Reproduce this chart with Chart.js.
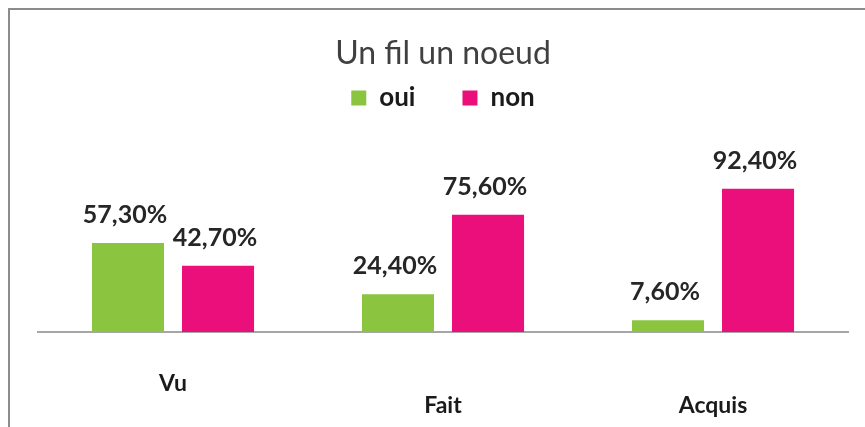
<!DOCTYPE html>
<html>
<head>
<meta charset="utf-8">
<script src="https://cdn.jsdelivr.net/npm/chart.js@4/dist/chart.umd.min.js"></script>
<style>
    html, body { margin: 0; padding: 0; background: #fff; overflow: hidden; }
    #wrap { position: relative; width: 865px; height: 427px; }
    /* cadre gris (coin haut-gauche seulement, le reste est coupé) */
    #frame { position: absolute; left: 8px; top: 8px; right: -10px; bottom: -10px;
             border-left: 2px solid #8c8c8c; border-top: 2px solid #8c8c8c; }
    canvas { position: absolute; left: 0; top: 0; }
</style>
</head>
<body>
<div id="wrap">
    <div id="frame"></div>
    <canvas id="chart-noeud" width="865" height="427"></canvas>
</div>
<script>
// Données du graphique
const categories = ['Vu', 'Fait', 'Acquis'];
const ouiValues = [57.3, 24.4, 7.6];
const nonValues = [42.7, 75.6, 92.4];
const seriesNames = ['oui', 'non'];

const FONT = 'Lato';

// Étiquettes de valeurs au-dessus des barres (format français 57,30%)
const valueLabels = {
    id: 'valueLabels',
    afterDatasetsDraw(chart) {
        const ctx = chart.ctx;
        ctx.save();
        ctx.font = `bold 25px ${FONT}`;
        ctx.fillStyle = '#262626';
        ctx.textAlign = 'center';
        ctx.textBaseline = 'alphabetic';
        chart.data.datasets.forEach((ds, i) => {
            const meta = chart.getDatasetMeta(i);
            meta.data.forEach((bar, j) => {
                const txt = ds.data[j].toFixed(2).replace('.', ',') + '%';
                ctx.fillText(txt, bar.x - 3, bar.y - 20);
            });
        });
        ctx.restore();
    }
};

new Chart(document.getElementById('chart-noeud'), {
    type: 'bar',
    data: {
        labels: categories,
        datasets: [
            {
                label: seriesNames[0],
                data: ouiValues,
                backgroundColor: '#8BC43F',
                categoryPercentage: 0.667,
                barPercentage: 0.8
            },
            {
                label: seriesNames[1],
                data: nonValues,
                backgroundColor: '#EA0F7B',
                categoryPercentage: 0.667,
                barPercentage: 0.8
            }
        ]
    },
    options: {
        responsive: false,
        animation: false,
        events: [],
        layout: { padding: { left: 38, right: 17, top: 38, bottom: -31 } },
        plugins: {
            title: {
                display: true,
                text: 'Un fil un noeud',
                color: '#404040',
                font: { family: FONT, size: 32, weight: 'normal', lineHeight: 1 },
                padding: { top: 0, bottom: -32 }
            },
            legend: {
                position: 'top',
                labels: {
                    boxWidth: 15,
                    boxHeight: 15,
                    padding: 47,
                    color: '#1a1a1a',
                    font: { family: FONT, size: 26, weight: 'bold' }
                }
            },
            tooltip: { enabled: false }
        },
        scales: {
            y: {
                display: false,
                beginAtZero: true,
                max: 136
            },
            x: {
                grid: { display: false, drawTicks: false },
                border: { display: true, color: '#a6a6a6', width: 2 },
                ticks: {
                    padding: 41,
                    color: '#1a1a1a',
                    font: { family: FONT, size: 23, weight: 'bold', lineHeight: '22px' },
                    // "Vu" plus haut, "Fait" et "Acquis" décalés d'une ligne
                    callback: (value, index) => index === 0 ? categories[index] : ['', categories[index]]
                }
            }
        }
    },
    plugins: [valueLabels]
});
</script>
</body>
</html>
